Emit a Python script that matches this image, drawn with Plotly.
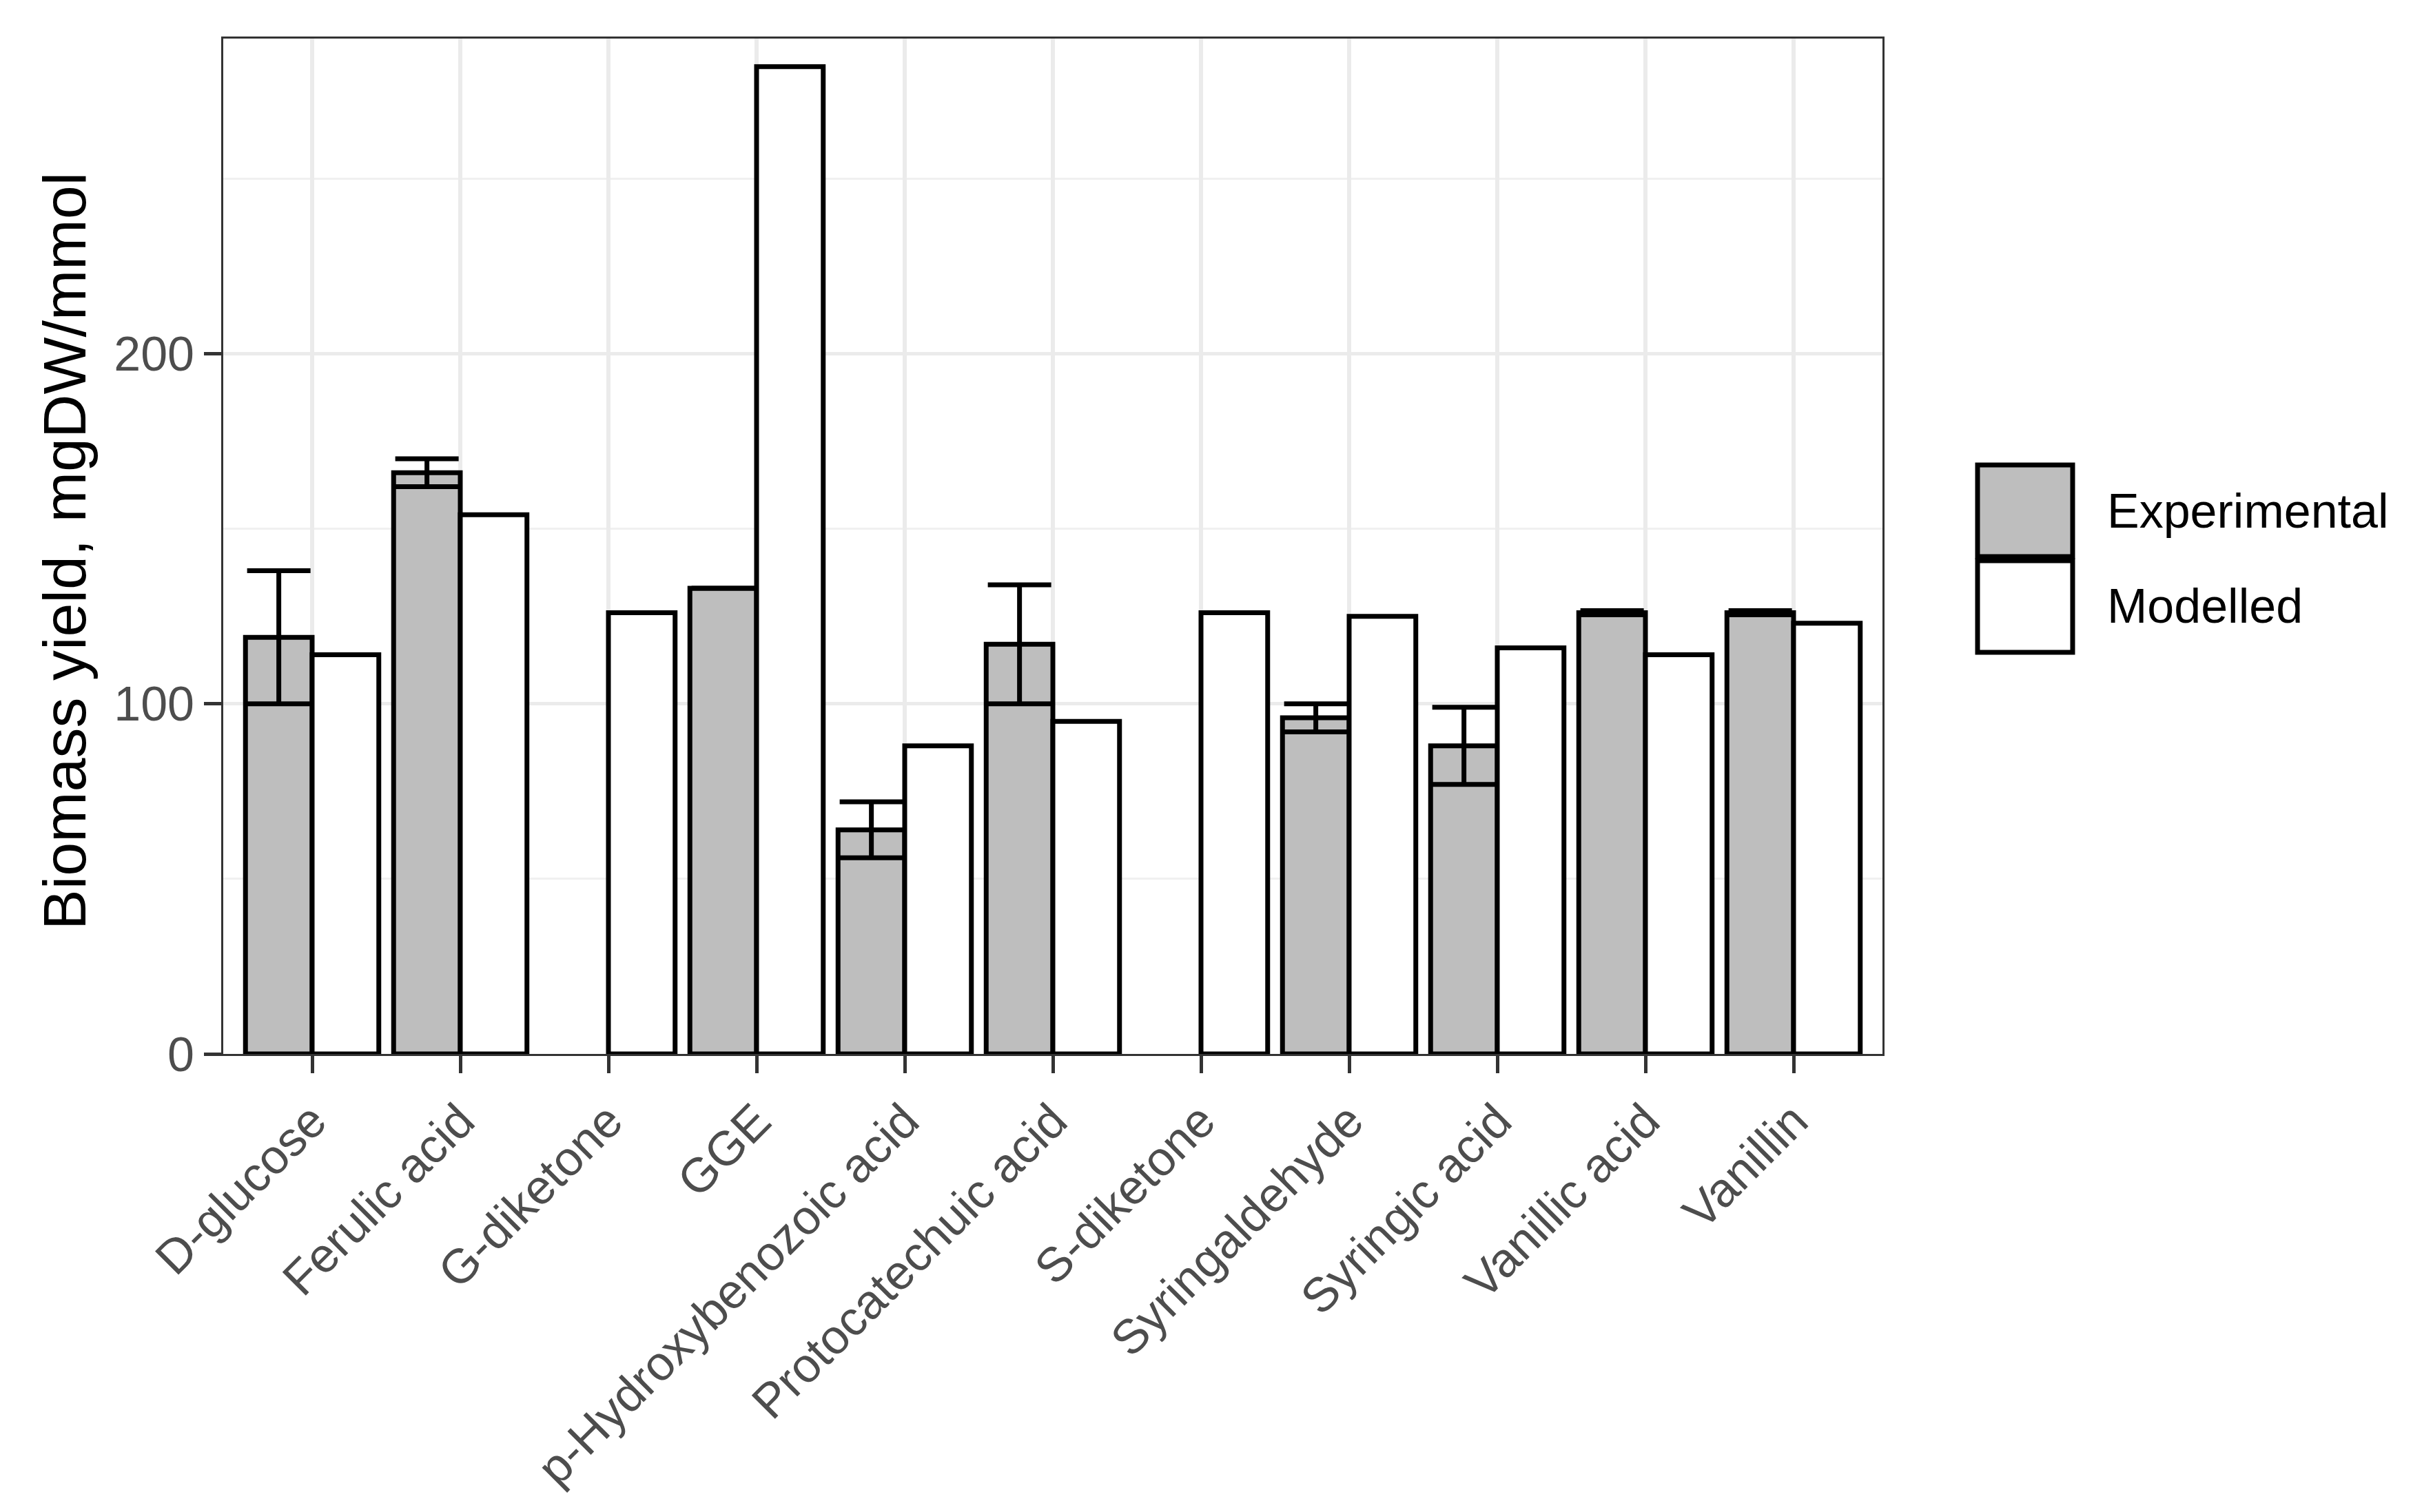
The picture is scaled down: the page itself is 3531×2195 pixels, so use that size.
import plotly.graph_objects as go

categories = ["D-glucose", "Ferulic acid", "G-diketone", "GGE", "p-Hydroxybenozoic acid",
              "Protocatechuic acid", "S-diketone", "Syringaldehyde", "Syringic acid",
              "Vanillic acid", "Vanillin"]
experimental = [119, 166, None, 133, 64, 117, None, 96, 88, 126, 126]
experimental_err = [19, 4, None, None, 8, 17, None, 4, 11, 0.6, 0.6]
modelled = [114, 154, 126, 282, 88, 95, 126, 125, 116, 114, 123]

legend_labels = ["Experimental", "Modelled"]
fill_colors = ["#BEBEBE", "#FFFFFF"]

FONT = "Liberation Sans, Arial, Helvetica, sans-serif"

fig = go.Figure()
fig.add_trace(go.Bar(
    x=categories, y=experimental, name=legend_labels[0],
    marker=dict(color=fill_colors[0], line=dict(color="black", width=7)),
    error_y=dict(type="data", array=experimental_err, visible=True,
                 color="black", thickness=7, width=46),
    showlegend=False,
))
fig.add_trace(go.Bar(
    x=categories, y=modelled, name=legend_labels[1],
    marker=dict(color=fill_colors[1], line=dict(color="black", width=7)),
    showlegend=False,
))

W, H = 3531, 2195
L, R, T, B = 316, 2724, 48, 1522
pw, ph = R - L, B - T

def px_x(x):
    return (x - L) / pw

def px_y(y):
    return (B - y) / ph

# Legend drawn manually (large ggplot-style keys)
key_x0, key_x1 = 2862, 3000
key_rows = [(667, 800), (806, 939)]
for (y0, y1), col, lab in zip(key_rows, fill_colors, legend_labels):
    fig.add_shape(type="rect", xref="paper", yref="paper",
                  x0=px_x(key_x0), x1=px_x(key_x1), y0=px_y(y1), y1=px_y(y0),
                  fillcolor=col, line=dict(color="black", width=7))
    fig.add_annotation(xref="paper", yref="paper", x=px_x(3048), y=px_y((y0 + y1) / 2),
                       text=lab, showarrow=False, xanchor="left", yanchor="middle",
                       font=dict(family=FONT, size=70, color="black"))

# Y-axis title
fig.add_annotation(xref="paper", yref="paper", x=px_x(86), y=px_y(792),
                   text="Biomass yield, mgDW/mmol", showarrow=False, textangle=-90,
                   xanchor="center", yanchor="middle",
                   font=dict(family=FONT, size=88, color="black"))

fig.update_layout(
    width=W, height=H,
    margin=dict(l=L, r=W - R, t=T, b=H - B, autoexpand=False),
    paper_bgcolor="white", plot_bgcolor="white",
    barmode="group", bargap=0.1, bargroupgap=0,
    font=dict(family=FONT, color="#4D4D4D"),
    showlegend=False,
)
fig.update_xaxes(
    type="category", range=[-0.6, 10.6],
    showgrid=True, gridcolor="#EBEBEB", gridwidth=6,
    ticks="outside", ticklen=25, tickwidth=5, tickcolor="#333333",
    tickangle=-45, tickfont=dict(family=FONT, size=70, color="#4D4D4D"),
    showline=True, mirror=True, linecolor="#333333", linewidth=3,
    zeroline=False,
)
fig.update_yaxes(
    range=[0, 290], tickvals=[0, 100, 200], ticktext=["0", "100", "200"],
    showgrid=True, gridcolor="#EBEBEB", gridwidth=5,
    minor=dict(showgrid=True, tickvals=[50, 150, 250], gridcolor="#F0F0F0", gridwidth=3),
    ticks="outside", ticklen=25, tickwidth=5, tickcolor="#333333",
    tickfont=dict(family=FONT, size=70, color="#4D4D4D"),
    showline=True, mirror=True, linecolor="#333333", linewidth=3,
    zeroline=False,
)

fig.write_html("out.html")
